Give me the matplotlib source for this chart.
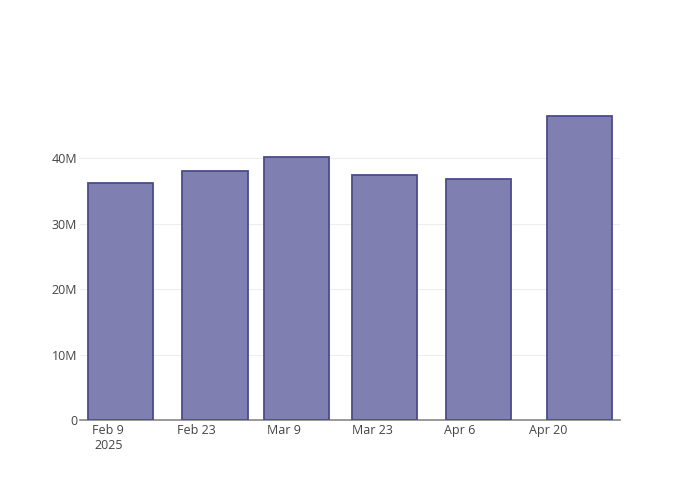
import matplotlib
matplotlib.use("Agg")
import matplotlib.pyplot as plt
import matplotlib.dates as mdates
import numpy as np
from matplotlib.ticker import FuncFormatter

# data
dates = ["2025-02-11", "2025-02-26", "2025-03-11", "2025-03-25", "2025-04-09", "2025-04-25"]
values = [36.2e6, 38.1e6, 40.2e6, 37.5e6, 36.9e6, 46.5e6]
tick_dates = ["2025-02-09", "2025-02-23", "2025-03-09", "2025-03-23", "2025-04-06", "2025-04-20"]
tick_labels = ["Feb 9\n2025", "Feb 23", "Mar 9", "Mar 23", "Apr 6", "Apr 20"]

x = mdates.datestr2num(dates)
ticks = mdates.datestr2num(tick_dates)
width = 0.8 * np.min(np.diff(x))

plt.rcParams['font.family'] = ['Open Sans', 'DejaVu Sans']
fig = plt.figure(figsize=(7, 5), dpi=100)
ax = fig.add_axes([80/700, 80/500, 540/700, 320/500])

ax.bar(x, values, width=width, color='#7f7fb1', edgecolor='#4b4b8c', linewidth=1.3, zorder=3)

ax.set_xlim(x[0] - width/2 - 1.3, x[-1] + width/2 + 1.3)
ax.set_ylim(0, max(values) * 1.052)

ax.set_xticks(ticks)
ax.set_xticklabels(tick_labels, ha='center', va='top', linespacing=1.2)
ax.set_yticks([0, 10e6, 20e6, 30e6, 40e6])
ax.yaxis.set_major_formatter(FuncFormatter(lambda v, p: "0" if v == 0 else f"{int(v/1e6)}M"))

ax.tick_params(axis='both', length=0, labelsize=9, labelcolor='#444444')
ax.tick_params(axis='x', pad=3)
ax.tick_params(axis='y', pad=2)
ax.grid(axis='y', color='#eeeeee', linewidth=0.8, zorder=0)
for s in ['top', 'right', 'left']:
    ax.spines[s].set_visible(False)
ax.spines['bottom'].set_color('#888888')
ax.spines['bottom'].set_linewidth(1.2)

fig.savefig("out.png", dpi=100)
